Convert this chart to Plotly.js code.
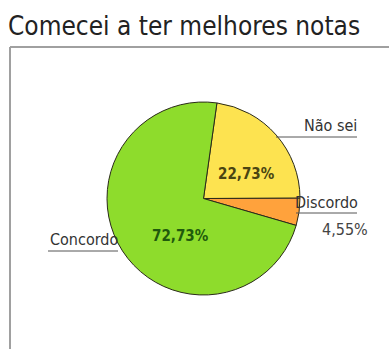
<!DOCTYPE html>
<html>
<head>
<meta charset="utf-8">
<script src="https://cdn.plot.ly/plotly-3.0.1.min.js"></script>
<style>html,body{margin:0;padding:0;background:#fff;}#chart{width:389px;height:349px;}</style>
</head>
<body>
<div id="chart"></div>
<script>
const chartTitle = "Comecei a ter melhores notas";
const categories = ["Não sei", "Discordo", "Concordo"];
const counts = [5, 1, 16];
const sliceColors = ["#FDE350", "#FFA23C", "#8EDC2C"];

const W = 389, H = 349;
const px = x => x / W;
const py = y => 1 - y / H;
const total = counts.reduce((a, b) => a + b, 0);
const pctText = counts.map(v => (100 * v / total).toFixed(2).replace(".", ",") + "%");

const font = "DejaVu Sans Condensed, DejaVu Sans, sans-serif";

const data = [{
  type: "pie",
  labels: categories,
  values: counts,
  sort: false,
  direction: "clockwise",
  rotation: 8,
  textinfo: "none",
  hoverinfo: "none",
  marker: { colors: sliceColors, line: { color: "#2a2a1a", width: 1 } },
  domain: { x: [px(107), px(300)], y: [py(295), py(102)] },
  showlegend: false
}];

const ann = (text, x, y, color, size, bold) => ({
  text: bold ? "<b>" + text + "</b>" : text,
  x: px(x), y: py(y), xref: "paper", yref: "paper",
  xanchor: "center", yanchor: "middle", showarrow: false,
  font: { family: font, size: size, color: color }
});

const annotations = [
  ann(categories[0], 330, 126, "#333333", 16),
  ann(categories[1], 326, 203, "#333333", 16),
  ann(pctText[1], 345, 229, "#444444", 16),
  ann(categories[2], 84, 240, "#333333", 16),
  ann(pctText[0], 247, 174, "#4a4512", 15, true),
  ann(pctText[2], 180, 236, "#1f5a0c", 15, true)
];

const line = (x0, y0, x1, y1, color, w) => ({
  type: "line", xref: "paper", yref: "paper",
  x0: px(x0), y0: py(y0), x1: px(x1), y1: py(y1),
  line: { color: color, width: w }
});

const shapes = [
  line(10, 47, 10, 349, "#a0a0a0", 2),
  line(10, 47, 389, 47, "#a0a0a0", 2),
  line(276, 137, 357, 137, "#555555", 1),
  line(296, 213, 357, 213, "#555555", 1),
  line(48, 251, 118, 251, "#555555", 1)
];

const layout = {
  width: W, height: H,
  margin: { l: 0, r: 0, t: 0, b: 0 },
  paper_bgcolor: "#ffffff",
  title: {
    text: chartTitle, x: px(8), xanchor: "left", xref: "paper",
    y: py(26), yref: "paper", yanchor: "middle",
    font: { family: font, size: 26, color: "#222222" }
  },
  annotations: annotations,
  shapes: shapes
};

Plotly.newPlot("chart", data, layout, { displayModeBar: false, staticPlot: true });
</script>
</body>
</html>
